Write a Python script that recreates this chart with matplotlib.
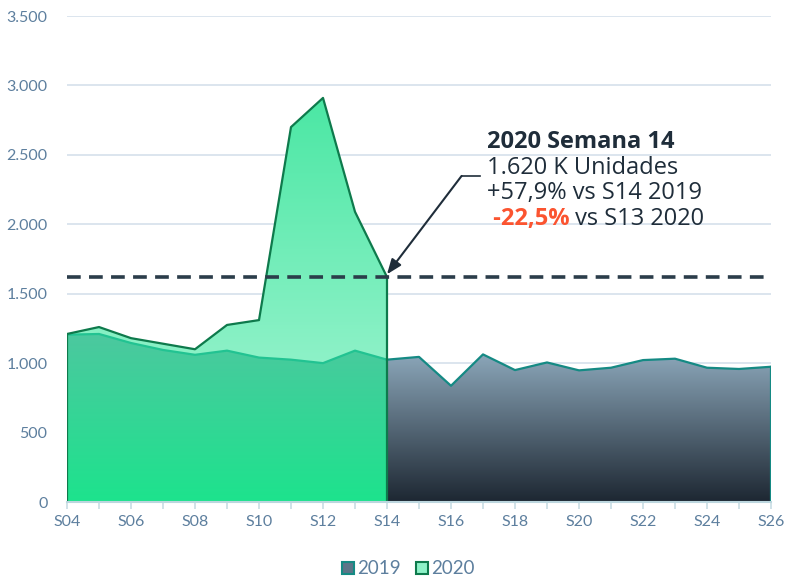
import numpy as np
import matplotlib
matplotlib.use("Agg")
import matplotlib.pyplot as plt
from matplotlib.colors import LinearSegmentedColormap
from matplotlib.patches import Patch

# data
weeks = list(range(4, 27))
week_labels = ["S%02d" % w for w in weeks]
sales_2019 = [1205, 1210, 1145, 1095, 1060, 1090, 1040, 1025, 1000, 1090, 1025,
              1045, 837, 1063, 950, 1005, 948, 967, 1022, 1032, 967, 958, 974]
weeks_2020 = list(range(4, 15))
sales_2020 = [1210, 1260, 1180, 1140, 1100, 1275, 1310, 2700, 2910, 2090, 1620]
ref_value = 1620
y_ticks = [0, 500, 1000, 1500, 2000, 2500, 3000, 3500]

tick_color = "#5d7f9e"


def grad_fill(ax, x, y, c_top, c_bot, y_top, zorder):
    # fill under the curve with a vertical gradient (imshow clipped to the area)
    poly = ax.fill_between(x, y, 0, facecolor="none", edgecolor="none")
    path = poly.get_paths()[0]
    cmap = LinearSegmentedColormap.from_list("g", [c_bot, c_top])
    img = ax.imshow(np.linspace(0, 1, 256).reshape(-1, 1), cmap=cmap,
                    aspect="auto", origin="lower",
                    extent=[x[0], x[-1], 0, y_top], zorder=zorder)
    img.set_clip_path(path, transform=ax.transData)
    return img


fig = plt.figure(figsize=(7.88, 5.78), dpi=100)
ax = fig.add_axes([67 / 788, 76 / 578, 704 / 788, 486 / 578])

# 2020 area
grad_fill(ax, weeks_2020, sales_2020, "#4be7a4", "#b0f7da", 2910, 1)

# 2019 area: green part up to S14, grey part afterwards
n14 = weeks.index(14)
grad_fill(ax, weeks[:n14 + 1], sales_2019[:n14 + 1], "#4cc89f", "#1de38d", 1210, 2)
grad_fill(ax, weeks[n14:], sales_2019[n14:], "#8ba6b9", "#1d2732", 1063, 2)

ax.plot(weeks[:n14 + 1], sales_2019[:n14 + 1], color="#22c392", lw=1.6, zorder=3)
ax.plot(weeks[n14:], sales_2019[n14:], color="#158a84", lw=1.6, zorder=3)
ax.plot([weeks[-1], weeks[-1]], [0, sales_2019[-1]], color="#158a84", lw=1.6, zorder=3)

# 2020 outline (closed at both ends)
ax.plot([4] + weeks_2020 + [14], [0] + sales_2020 + [0], color="#0e7a4c", lw=1.6, zorder=4)

# reference dashed line
ax.hlines(ref_value, 4, 25.85, colors="#2b3d4a", lw=2.6, linestyles=(0, (3.8, 2.3)), zorder=5)

# annotation
ax.plot([16.33, 16.9], [2348, 2348], color="#1f2d3a", lw=1.2, zorder=6)
ax.annotate("", xy=(14.0, 1640), xytext=(16.33, 2348),
            arrowprops=dict(arrowstyle="-|>,head_length=0.9,head_width=0.35",
                            color="#1f2d3a", lw=1.5, shrinkA=0, shrinkB=0), zorder=6)
tx = 17.12
afont = "Open Sans"
fs = 17
ax.text(tx, 2549, "2020 Semana 14", fontsize=fs, fontweight="bold", family=afont,
        color="#1f2d3a", va="baseline", zorder=6)
ax.text(tx, 2362, "1.620 K Unidades", fontsize=fs, family=afont,
        color="#1f2d3a", va="baseline", zorder=6)
ax.text(tx, 2182, "+57,9% vs S14 2019", fontsize=fs, family=afont,
        color="#1f2d3a", va="baseline", zorder=6)
t_red = ax.text(tx, 1995, " -22,5%", fontsize=fs, fontweight="bold", family=afont,
                color="#fb5430", va="baseline", zorder=6)
ax.annotate(" vs S13 2020", xy=(1, 0), xycoords=t_red, fontsize=fs, family=afont,
            color="#1f2d3a", va="bottom", ha="left", zorder=6)

# axes styling
ax.set_xlim(4, 26)
ax.set_ylim(0, 3500)
ax.set_xticks(weeks)
ax.set_xticklabels([lab if i % 2 == 0 else "" for i, lab in enumerate(week_labels)])
ax.set_yticks(y_ticks)
ax.set_yticklabels(["{:,}".format(v).replace(",", ".") for v in y_ticks])
ax.grid(axis="y", color="#dce5ee", lw=1.4, zorder=0)
ax.set_axisbelow(True)
for s in ["left", "right", "top"]:
    ax.spines[s].set_visible(False)
ax.spines["bottom"].set_color("#bcd6de")
ax.spines["bottom"].set_linewidth(1.5)
ax.spines["bottom"].set_zorder(7)
ax.tick_params(axis="x", colors="#c8dde4", length=5, width=1.2, pad=4,
               labelcolor=tick_color, labelsize=11.5)
ax.tick_params(axis="y", length=0, pad=14, labelcolor=tick_color, labelsize=11.5)
for lab in ax.get_xticklabels() + ax.get_yticklabels():
    lab.set_family("Lato")

handles = [Patch(facecolor="#5c7588", edgecolor="#158a84", lw=1.5, label="2019"),
           Patch(facecolor="#8ef2c8", edgecolor="#0e7a4c", lw=1.5, label="2020")]
leg = fig.legend(handles=handles, loc="center", bbox_to_anchor=(0.518, 9 / 578),
                 ncol=2, frameon=False, handlelength=0.65, handleheight=0.65,
                 handletextpad=0.15, columnspacing=0.8,
                 prop={"family": "Lato", "size": 13.5})
for t in leg.get_texts():
    t.set_color(tick_color)

fig.savefig("out.png", dpi=100)
